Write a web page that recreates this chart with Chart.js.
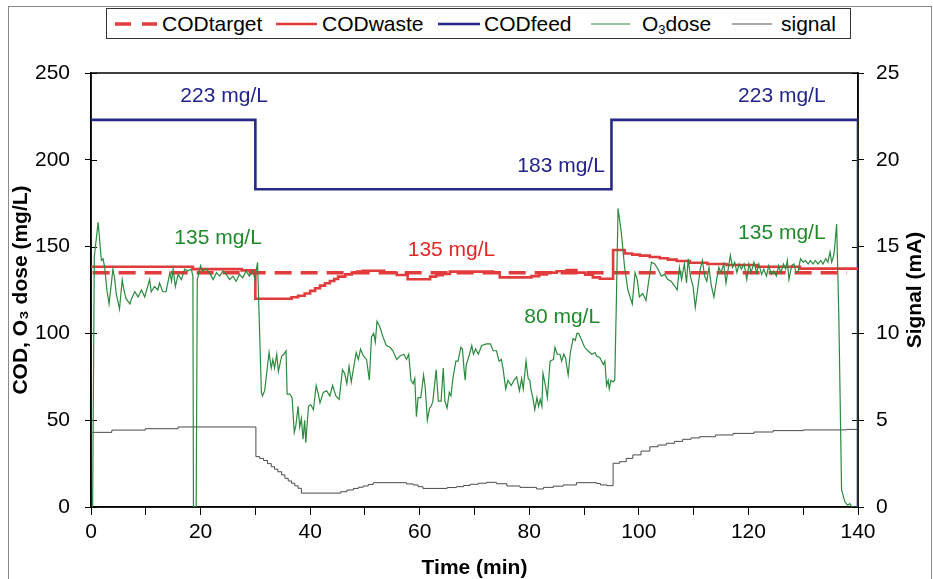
<!DOCTYPE html>
<html lang="en">
<head>
<meta charset="UTF-8" />
<title>COD and ozone dose vs time</title>
<script src="https://cdn.jsdelivr.net/npm/chart.js"></script>
<style>
  body { margin: 0; background: #fff; font-family: "Liberation Sans", Arial, sans-serif; }
  #wrap { position: relative; width: 933px; height: 579px; overflow: hidden; }
  #frame { position: absolute; left: 8px; top: 6px; width: 922px; height: 600px; border: 1px solid #8a8a8a; border-bottom: none; }
  #legend { position: absolute; left: 106px; top: 8px; width: 743px; height: 29px; border: 1px solid #333; background: #fff; }
  #legend svg { position: absolute; left: 0; top: 0; }
  .lb { position: absolute; top: 2px; font-size: 21px; line-height: 25px; color: #000; white-space: nowrap; }
  .lb sub { font-size: 13px; vertical-align: -3px; line-height: 0; }
  canvas { position: absolute; left: 0; top: 0; }
</style>
</head>
<body>
<div id="wrap">
  <div id="frame"></div>
  <canvas id="chart" width="933" height="579"></canvas>
  <!-- legend drawn as html so the O3 subscript and the dashed sample look right -->
  <div id="legend">
    <svg width="743" height="29">
      <line x1="8" y1="15" x2="24" y2="15" stroke="#e23b3b" stroke-width="3.5" />
      <line x1="35" y1="15" x2="50" y2="15" stroke="#e23b3b" stroke-width="3.5" />
      <line x1="169" y1="15" x2="210" y2="15" stroke="#e23b3b" stroke-width="2.5" />
      <line x1="331" y1="15" x2="373" y2="15" stroke="#262a86" stroke-width="2.5" />
      <line x1="484" y1="15" x2="523" y2="15" stroke="#2b8a3e" stroke-width="1.2" />
      <line x1="625" y1="15" x2="665" y2="15" stroke="#555" stroke-width="1" />
    </svg>
    <span class="lb" style="left:55px">CODtarget</span>
    <span class="lb" style="left:215px">CODwaste</span>
    <span class="lb" style="left:377px">CODfeed</span>
    <span class="lb" style="left:535px">O<sub>3</sub>dose</span>
    <span class="lb" style="left:674px">signal</span>
  </div>
</div>

<script>
  // ---- data (time in min) ----
  const targetTime = [0.3, 138];
  const targetCOD = [135, 135];

  const feedTime = [0, 30, 30, 95, 95, 140, 140];
  const feedCOD = [223, 223, 183, 183, 223, 223, 0];

  // step changes of the waste COD (value holds until the next time)
  const wasteTime = [0, 18.6, 27.5, 30.0, 36.6, 37.8, 39.0, 40.0, 40.9, 41.8, 42.7, 43.6, 44.4, 45.1, 46.4, 47.6,
    48.6, 49.6, 53.5, 55.8, 57.8, 61.9, 63.0, 64.2, 65.5, 73.4, 74.6, 80.4, 81.8, 83.2, 85.0, 86.8, 88.6, 90.2,
    91.6, 92.9, 95.3, 97.4, 98.8, 100.2, 102.0, 103.8, 105.3, 106.9, 109.3, 112.5, 116.0, 121.5, 129.4, 140];
  const wasteCOD = [138.4, 137.0, 136.3, 120.0, 120.8, 121.7, 123.0, 124.5, 126.0, 127.5, 128.9, 130.2, 131.3,
    132.7, 134.0, 135.0, 135.6, 136.1, 135.0, 133.6, 131.2, 132.7, 133.5, 134.2, 135.6, 135.2, 132.3, 133.0, 134.0,
    135.0, 135.8, 136.5, 135.0, 133.8, 132.3, 131.5, 148.0, 146.0, 145.4, 144.8, 144.0, 143.3, 142.5, 141.7, 140.7,
    140.0, 139.4, 138.4, 137.3, 136.9];

  const o3Time = [0.3, 0.6, 1.3, 1.9, 2.2, 2.5, 2.9, 3.3, 4.0, 4.3, 4.6, 5.2, 5.7, 6.0, 6.4, 7.1, 7.4, 8.0, 8.6,
    9.2, 9.8, 10.7, 11.0, 11.6, 12.2, 12.5, 13.1, 13.7, 14.4, 14.7, 15.0, 15.4, 15.9, 16.5, 17.1, 17.7, 18.3,
    18.6, 18.7, 19.2, 19.4, 20.0, 20.3, 21.0, 21.6, 22.3, 22.9, 23.5, 24.1, 24.7, 25.3, 25.9, 26.5, 27.1, 27.7,
    28.3, 28.9, 29.6, 29.9, 30.4, 31.1, 31.3, 31.7, 32.5, 32.9, 33.2, 33.5, 33.9, 34.2, 34.8, 35.2, 35.6, 35.8,
    36.3, 36.7, 37.1, 37.4, 37.8, 38.1, 38.4, 38.7, 39.0, 39.2, 39.7, 40.1, 40.6, 41.1, 41.5, 41.8, 42.4, 43.0,
    43.6, 44.1, 44.7, 45.3, 45.9, 46.3, 46.7, 47.1, 47.5, 48.4, 48.8, 49.2, 49.7, 50.3, 50.8, 51.2, 51.6, 51.9,
    52.2, 52.7, 53.3, 53.9, 54.6, 55.1, 55.8, 56.4, 57.1, 57.6, 58.0, 58.4, 58.8, 59.1, 59.4, 59.7, 60.2, 60.7,
    61.0, 61.4, 61.8, 62.1, 62.4, 63.0, 63.4, 63.9, 64.3, 64.6, 65.0, 65.4, 65.7, 66.1, 66.6, 67.0, 67.5, 67.8,
    68.1, 68.3, 68.5, 69.0, 69.5, 69.8, 70.2, 70.7, 71.3, 72.2, 72.9, 73.4, 74.0, 74.5, 74.9, 75.2, 75.7, 76.1,
    76.7, 77.2, 77.7, 78.2, 78.6, 78.9, 79.4, 79.8, 80.1, 80.3, 80.7, 81.0, 81.4, 81.7, 82.0, 82.3, 82.5, 83.0,
    83.3, 83.8, 84.4, 84.7, 85.1, 85.6, 85.9, 86.3, 86.6, 87.1, 87.5, 88.0, 88.4, 88.7, 89.0, 89.3, 90.1, 90.7,
    91.4, 92.0, 92.3, 92.9, 93.5, 93.8, 94.1, 94.4, 94.6, 94.9, 95.3, 95.6, 95.9, 96.2, 96.8, 97.4, 98.0, 98.8,
    99.3, 99.7, 100.1, 100.7, 101.3, 101.7, 102.3, 102.9, 103.5, 104.1, 104.7, 105.3, 105.9, 106.6, 107.0, 107.4,
    107.8, 108.3, 108.7, 109.0, 109.4, 109.9, 110.3, 110.8, 111.2, 111.6, 112.0, 112.4, 112.8, 113.2, 113.7,
    114.2, 114.6, 115.0, 115.5, 115.9, 116.3, 116.7, 117.1, 117.5, 117.9, 118.3, 118.7, 119.2, 119.7, 120.1,
    120.5, 121.0, 121.5, 121.9, 122.4, 122.8, 123.3, 123.7, 124.2, 124.6, 125.1, 125.5, 125.9, 126.4, 126.8,
    127.1, 127.4, 127.9, 128.3, 128.7, 129.1, 129.5, 130.0, 130.4, 130.9, 131.3, 131.8, 132.2, 132.7, 133.2,
    133.6, 134.1, 134.5, 134.9, 135.2, 135.5, 135.7, 136.1, 136.5, 137.0, 137.6, 138.1, 138.5, 138.9, 140];
  const o3Dose = [0, 144, 164, 142, 143, 138, 125, 117, 137, 132, 123, 114, 131, 125, 120, 117, 120, 124, 121,
    125, 121, 131, 124, 127, 125, 129, 124, 124, 135, 130, 137, 127, 134, 131, 137, 136, 137,
    133, 0, 0, 131, 139, 136, 137, 135, 131, 135, 133, 136, 134, 131, 133, 130, 134, 132,
    136, 133, 136, 131, 141, 66, 64, 67, 89, 80, 85, 80, 88, 78, 87, 88, 90, 65,
    65, 63, 43, 47, 58, 46, 51, 39, 50, 37, 58, 59, 56, 70, 65, 60, 66, 67,
    64, 70, 64, 62, 79, 77, 71, 81, 72, 89, 85, 91, 87, 85, 73, 98, 100, 95,
    107, 104, 98, 93, 92, 90, 85, 87, 88, 85, 88, 73, 71, 74, 52, 63, 63, 76,
    69, 50, 57, 58, 61, 79, 61, 61, 80, 61, 57, 66, 64, 75, 84, 84, 92, 91,
    79, 73, 82, 87, 93, 88, 91, 88, 93, 94, 94, 90, 90, 84, 85, 80, 68, 73,
    70, 73, 75, 67, 74, 68, 84, 74, 73, 68, 62, 56, 63, 58, 62, 58, 77, 69,
    63, 84, 85, 92, 88, 88, 84, 88, 86, 76, 89, 97, 96, 100, 100, 98, 92, 90,
    88, 89, 87, 86, 82, 84, 70, 73, 68, 73, 72, 73, 119, 172, 158, 138, 125, 117,
    135, 131, 121, 123, 119, 128, 141, 140, 137, 133, 134, 131, 130, 127, 125, 138,
    131, 140, 129, 143, 133, 127, 115, 127, 137, 142, 133, 130, 138, 128, 121,
    131, 138, 135, 140, 129, 137, 145, 138, 141, 135, 140, 137, 140, 131, 140,
    135, 141, 135, 140, 134, 137, 133, 139, 134, 136, 133, 139, 135, 140, 137,
    142, 131, 139, 140, 135, 136, 143, 141, 142, 140, 142, 140, 142, 140, 142,
    140, 143, 141, 147, 141, 144, 148, 163, 110, 10, 3, 1, 2, 0, 0];

  // signal in mA, right axis (value holds until the next time)
  const signalTime = [0, 3.8, 9.9, 15.9, 30.1, 30.8, 31.5, 32.2, 32.9, 33.5, 34.1, 34.8, 35.4, 36.0, 36.6, 37.2,
    37.8, 38.4, 45.6, 46.7, 47.9, 48.8, 49.7, 50.6, 51.5, 57.6, 58.8, 59.7, 60.6, 65.0, 66.7, 68.0, 69.2, 70.7,
    72.2, 74.0, 75.9, 78.3, 81.3, 82.6, 84.4, 86.2, 88.6, 92.3, 93.0, 94.2, 95.3, 96.5, 97.7, 98.9, 100.4, 102.0,
    103.5, 105.0, 106.5, 108.0, 109.5, 111.1, 114.0, 117.2, 121.0, 124.5, 130.0, 137.9, 140];
  const signalMA = [4.30, 4.43, 4.51, 4.61, 2.90, 2.80, 2.68, 2.50, 2.32, 2.18, 2.03, 1.85, 1.65, 1.50, 1.37, 1.22,
    1.08, 0.80, 0.88, 0.98, 1.07, 1.14, 1.21, 1.30, 1.40, 1.33, 1.27, 1.17, 1.07, 1.12, 1.17, 1.24, 1.31, 1.37,
    1.42, 1.34, 1.21, 1.13, 1.04, 1.13, 1.20, 1.27, 1.40, 1.35, 1.27, 1.23, 2.52, 2.61, 2.80, 3.00, 3.22, 3.47,
    3.57, 3.67, 3.78, 3.90, 3.98, 4.05, 4.15, 4.24, 4.32, 4.40, 4.44, 4.47, 4.50];

  // text notes placed in data units
  const notes = [
    { text: "223 mg/L", t: 24.3, v: 236.7, color: "#23238c" },
    { text: "223 mg/L", t: 126.1, v: 236.7, color: "#23238c" },
    { text: "183 mg/L", t: 85.8, v: 196.4, color: "#23238c" },
    { text: "135 mg/L", t: 23.2, v: 155, color: "#1f8a2a" },
    { text: "135 mg/L", t: 126.1, v: 158, color: "#1f8a2a" },
    { text: "135 mg/L", t: 65.8, v: 148, color: "#e02828" },
    { text: "80 mg/L", t: 86.0, v: 109.6, color: "#1f8a2a" },
  ];

  const pts = (xs, ys) => xs.map((x, i) => ({ x: x, y: ys[i] }));
  const FONT = "Liberation Sans";

  // frame around plot area, inward half of the y ticks, text notes, right title
  const extras = {
    id: "extras",
    beforeDatasetsDraw(chart) {
      const { ctx, chartArea: a } = chart;
      ctx.save();
      ctx.strokeStyle = "#000";
      ctx.lineWidth = 1.5;
      ctx.strokeRect(a.left, a.top, a.right - a.left, a.bottom - a.top);
      ctx.lineWidth = 1;
      const y = chart.scales.y, y2 = chart.scales.y2;
      y.ticks.forEach((t) => {
        const p = Math.round(y.getPixelForValue(t.value)) + 0.5;
        ctx.beginPath(); ctx.moveTo(a.left, p); ctx.lineTo(a.left + 6, p); ctx.stroke();
      });
      y2.ticks.forEach((t) => {
        const p = Math.round(y2.getPixelForValue(t.value)) + 0.5;
        ctx.beginPath(); ctx.moveTo(a.right - 6, p); ctx.lineTo(a.right, p); ctx.stroke();
      });
      ctx.restore();
    },
    afterDatasetsDraw(chart) {
      const { ctx, chartArea: a } = chart;
      const x = chart.scales.x, y = chart.scales.y;
      ctx.save();
      ctx.font = "21px " + FONT;
      ctx.textAlign = "center";
      ctx.textBaseline = "middle";
      notes.forEach((n) => {
        ctx.fillStyle = n.color;
        ctx.fillText(n.text, x.getPixelForValue(n.t), y.getPixelForValue(n.v));
      });
      // right axis title reads bottom to top, like the left one
      ctx.translate(915, (a.top + a.bottom) / 2);
      ctx.rotate(-Math.PI / 2);
      ctx.font = "bold 21px " + FONT;
      ctx.fillStyle = "#000";
      ctx.fillText("Signal (mA)", 0, 0);
      ctx.restore();
    },
  };

  const tickFont = { family: FONT, size: 21 };
  const titleFont = { family: FONT, size: 21, weight: "bold" };

  new Chart(document.getElementById("chart"), {
    type: "line",
    data: {
      datasets: [
        { label: "O3dose", data: pts(o3Time, o3Dose), borderColor: "#2b8a3e", borderWidth: 1.2, yAxisID: "y", order: 0 },
        { label: "CODwaste", data: pts(wasteTime, wasteCOD), borderColor: "#e23b3b", borderWidth: 2.6, stepped: true, yAxisID: "y", order: 1 },
        { label: "CODtarget", data: pts(targetTime, targetCOD), borderColor: "#e23b3b", borderWidth: 3.5, borderDash: [17, 9], yAxisID: "y", order: 2 },
        { label: "CODfeed", data: pts(feedTime, feedCOD), borderColor: "#262a86", borderWidth: 2.6, yAxisID: "y", order: 3 },
        { label: "signal", data: pts(signalTime, signalMA), borderColor: "#4a4a4a", borderWidth: 1, stepped: true, yAxisID: "y2", order: 4 },
      ],
    },
    options: {
      responsive: false,
      devicePixelRatio: 1,
      animation: false,
      elements: { point: { radius: 0 }, line: { tension: 0 } },
      layout: { padding: { top: 73, left: 0, right: 0, bottom: 0 } },
      plugins: { legend: { display: false }, tooltip: { enabled: false } },
      scales: {
        x: {
          type: "linear",
          min: 0,
          max: 140,
          afterFit: (s) => { s.height = 72; },
          ticks: {
            stepSize: 10,
            autoSkip: false,
            maxRotation: 0,
            padding: 5,
            color: "#000",
            font: tickFont,
            callback: (v) => (v % 20 === 0 ? v : ""),
          },
          grid: { drawOnChartArea: false, tickLength: 8, color: "#000" },
          border: { color: "#000", width: 1.5 },
          title: { display: true, text: "Time (min)", color: "#000", font: { ...titleFont, lineHeight: 1 }, padding: 0 },
        },
        y: {
          position: "left",
          min: 0,
          max: 250,
          afterFit: (s) => { s.width = 91; },
          ticks: { stepSize: 50, padding: 15, color: "#000", font: tickFont },
          grid: { drawOnChartArea: false, tickLength: 6, color: "#000" },
          border: { color: "#000", width: 1.5 },
          title: { display: true, text: "COD, O\u2083 dose (mg/L)", color: "#000", font: titleFont, padding: { top: 9, bottom: 0 } },
        },
        y2: {
          position: "right",
          min: 0,
          max: 25,
          afterFit: (s) => { s.width = 75; },
          ticks: { stepSize: 5, padding: 12, color: "#000", font: tickFont },
          grid: { drawOnChartArea: false, tickLength: 6, color: "#000" },
          border: { color: "#000", width: 1.5 },
          title: { display: false },
        },
      },
    },
    plugins: [extras],
  });
</script>
</body>
</html>
